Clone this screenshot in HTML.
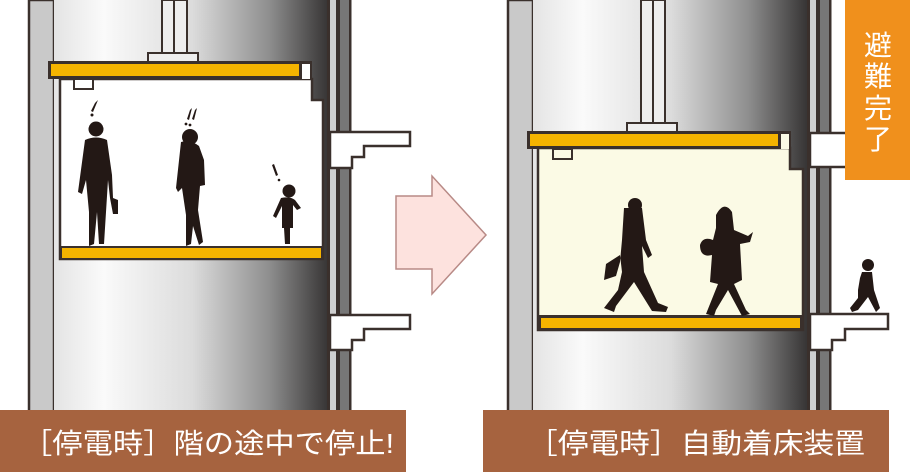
<!DOCTYPE html>
<html><head><meta charset="utf-8"><style>
html,body{margin:0;padding:0;background:#fff;}
svg{display:block}
text{font-family:"Liberation Sans","Noto Sans CJK JP",sans-serif;}
</style></head><body>
<svg width="910" height="472" viewBox="0 0 910 472" xmlns="http://www.w3.org/2000/svg">
<defs>
<linearGradient id="g" x1="0" x2="1" y1="0" y2="0">
<stop offset="0" stop-color="#e4e4e4"/>
<stop offset="0.18" stop-color="#fafafa"/>
<stop offset="0.5" stop-color="#dcdcdc"/>
<stop offset="0.78" stop-color="#8e8e8e"/>
<stop offset="1" stop-color="#343232"/>
</linearGradient>
</defs>
<rect width="910" height="472" fill="#fff"/>

<!-- LEFT SHAFT -->
<g>
<rect x="29" y="0" width="25" height="412" fill="#c9c9c9" stroke="#3a302c" stroke-width="2.5"/>
<rect x="54" y="0" width="276" height="412" fill="url(#g)"/>
<rect x="328" y="0" width="22" height="412" fill="#cfcfcf"/>
<rect x="327" y="0" width="3" height="412" fill="#3a302c"/>
<rect x="336" y="0" width="4" height="412" fill="#3a302c"/>
<rect x="340" y="0" width="9" height="412" fill="#777"/>
<rect x="349" y="0" width="2.5" height="412" fill="#3a302c"/>
<rect x="162" y="0" width="25" height="54" fill="#eee" stroke="#3a302c" stroke-width="2"/>
<line x1="174" y1="0" x2="174" y2="54" stroke="#3a302c" stroke-width="2"/>
<rect x="148" y="53" width="50" height="9" fill="#eee" stroke="#3a302c" stroke-width="2"/>
<path d="M60 79 H312 V100 H323 V259 H60 Z" fill="#fff" stroke="#3a302c" stroke-width="2.5"/>
<rect x="48" y="61" width="264" height="18" fill="#3a302c"/>
<rect x="51" y="64" width="248" height="12" fill="#f5b400"/>
<rect x="302" y="64" width="8" height="15" fill="#fff"/>
<rect x="74" y="79" width="19" height="10" fill="#fff" stroke="#3a302c" stroke-width="2"/>
<rect x="60" y="246" width="263" height="14" fill="#3a302c"/>
<rect x="62" y="248" width="259" height="10" fill="#f5b400"/>
<path d="M330 132 H410 V146 H364 V157 H352 V168 H330 Z" fill="#fff" stroke="#3a302c" stroke-width="2.5"/>
<path d="M330 315 H410 V329 H364 V340 H352 V350 H330 Z" fill="#fff" stroke="#3a302c" stroke-width="2.5"/>
<g fill="#231815">
<circle cx="96" cy="129" r="7.5"/>
<path d="M85 140 Q96 135 107 140 L112 175 L113 198 L118 200 L118 214 L113 214 L110 198 L108 180 L106 212 L104 244 L99 244 L97 212 L94 244 L89 246 L89 212 L86 180 L82 194 L78 192 Z"/>
<path d="M95 103 l3 -3 l-5 12 l-2 -1 z"/><circle cx="92" cy="115" r="1.5"/>
<circle cx="190" cy="137" r="8"/>
<path d="M181 142 Q190 139 199 146 L204 160 L205 185 L200 186 L198 210 L203 242 L199 245 L193 226 L191 244 L186 246 L186 215 L182 188 L178 192 L176 188 Z"/>
<path d="M190 110 l2 -2 l-3 12 l-2 -1 z M195 110 l2 -2 l-3 12 l-2 -1 z"/><circle cx="186" cy="124" r="1.4"/><circle cx="190" cy="125" r="1.4"/>
<circle cx="289" cy="191" r="6.5"/>
<path d="M281 198 Q290 196 295 200 L301 208 L297 210 L293 205 L293 228 L290 228 L290 244 L285 244 L284 228 L282 228 L282 206 L276 218 L273 216 Z"/>
<path d="M272 165 l2 -1 l4 11 l-2 1 z"/><circle cx="279" cy="180" r="1.3"/>
</g>
</g>

<path d="M396 196 H432 V176 L486 235 L432 294 V269 H396 Z" fill="#fde2de" stroke="#b88a86" stroke-width="1.5"/>

<!-- RIGHT SHAFT -->
<g>
<rect x="508" y="0" width="25" height="412" fill="#c9c9c9" stroke="#3a302c" stroke-width="2.5"/>
<rect x="533" y="0" width="276" height="412" fill="url(#g)"/>
<rect x="808" y="0" width="22" height="412" fill="#cfcfcf"/>
<rect x="807" y="0" width="3" height="412" fill="#3a302c"/>
<rect x="816" y="0" width="4" height="412" fill="#3a302c"/>
<rect x="820" y="0" width="9" height="412" fill="#777"/>
<rect x="829" y="0" width="2.5" height="412" fill="#3a302c"/>
<rect x="641" y="0" width="24" height="125" fill="#eee" stroke="#3a302c" stroke-width="2"/>
<line x1="653" y1="0" x2="653" y2="125" stroke="#3a302c" stroke-width="2"/>
<rect x="627" y="123" width="50" height="9" fill="#eee" stroke="#3a302c" stroke-width="2"/>
<path d="M538 148 H790 V169 H803 V330 H538 Z" fill="#fbfae5" stroke="#3a302c" stroke-width="2.5"/>
<rect x="527" y="131" width="264" height="18" fill="#3a302c"/>
<rect x="530" y="134" width="248" height="12" fill="#f5b400"/>
<rect x="781" y="134" width="8" height="15" fill="#fbfae5"/>
<rect x="553" y="149" width="19" height="10" fill="#fbfae5" stroke="#3a302c" stroke-width="2"/>
<rect x="538" y="315" width="265" height="15" fill="#3a302c"/>
<rect x="541" y="318" width="259" height="10" fill="#f5b400"/>
<path d="M810 133 H850 V167 H810 Z" fill="#fff" stroke="#3a302c" stroke-width="2.5"/>
<path d="M810 314 H888 V329 H845 V340 H832 V350 H810 Z" fill="#fff" stroke="#3a302c" stroke-width="2.5"/>
<g fill="#231815">
<circle cx="635" cy="205" r="7"/>
<path d="M624 208 H642 L646 240 L652 255 L648 258 L642 246 L644 272 L658 303 L668 307 L666 312 L652 311 L634 282 L616 306 L614 312 L604 308 L618 290 L622 272 L620 255 L606 264 L604 280 L616 276 L620 262 L622 240 Z"/>
<path d="M716 215 Q724 200 732 212 L734 230 L748 236 L753 232 L750 242 L740 244 L742 280 L734 284 L746 310 L750 314 L742 316 L728 290 L716 310 L714 316 L706 314 L718 284 L710 282 L712 255 Q700 258 700 245 Q703 236 713 240 L716 228 Z"/>
<circle cx="868" cy="265" r="6"/>
<path d="M862 272 H872 L874 290 L880 308 L876 312 L868 297 L858 310 L852 312 L850 308 L858 298 L858 290 L860 278 Z"/>
</g>
</g>

<rect x="845" y="0" width="65" height="180" fill="#f0901c"/>
<text fill="#fff" font-size="28" text-anchor="middle" x="878" y="55">避</text>
<text fill="#fff" font-size="28" text-anchor="middle" x="878" y="86">難</text>
<text fill="#fff" font-size="28" text-anchor="middle" x="878" y="118">完</text>
<text fill="#fff" font-size="28" text-anchor="middle" x="878" y="149">了</text>

<rect x="0" y="410" width="406" height="62" fill="#a6633f"/>
<rect x="483" y="410" width="406" height="62" fill="#a6633f"/>
<text fill="#fff" font-size="28" x="22" y="453" textLength="372" lengthAdjust="spacingAndGlyphs">［停電時］階の途中で停止!</text>
<text fill="#fff" font-size="28" x="527" y="453" textLength="338" lengthAdjust="spacingAndGlyphs">［停電時］自動着床装置</text>
</svg>
</body></html>
